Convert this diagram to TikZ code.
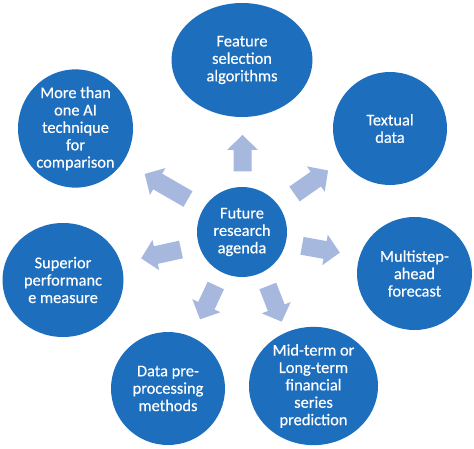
\documentclass[tikz,border=0pt]{standalone}
\usepackage{fontspec}
\setmainfont{Carlito}
\newfontfamily\bubfont{Carlito}[FakeBold=0.35]
\usetikzlibrary{shapes.geometric}
\definecolor{bubble}{HTML}{1E6EBE}
\definecolor{arrowcol}{HTML}{A7B8DE}
\newcommand\blockarrow[3]{%
  \begin{scope}[shift={(#1)},rotate=#2]
    \fill[arrowfill] (0,-9) -- ({#3-15},-9) -- ({#3-15},-15.5) -- (#3,0) -- ({#3-15},15.5) -- ({#3-15},9) -- (0,9) -- cycle;
  \end{scope}}
\begin{document}
\begin{tikzpicture}[x=1pt,y=-1pt,
  bub/.style={ellipse,fill=bubble,inner sep=0pt,text=white,align=center,
    font=\bubfont\fontsize{16.4}{17.4}\selectfont},
  arrowfill/.style={fill=arrowcol}]
\useasboundingbox (0,0) rectangle (474,449);
\fill[white] (0,0) rectangle (474,449);
% bubbles
\node[bub,minimum width=90,minimum height=90] (c) at (242,232) {Future\\research\\agenda};
\node[bub,minimum width=141,minimum height=114] (feat) at (242,60) {Feature\\selection\\algorithms};
\node[bub,minimum width=114,minimum height=113] (text) at (390,128.5) {Textual\\data};
\node[bub,minimum width=115,minimum height=113] (more) at (75.5,128.5) {More than\\one AI\\technique\\for\\comparison};
\node[bub,minimum width=121,minimum height=114] (sup) at (63,280) {Superior\\performanc\\e measure};
\node[bub,minimum width=115,minimum height=113] (multi) at (414.5,273.5) {Multistep-\\ahead\\forecast};
\node[bub,minimum width=114,minimum height=113] (data) at (168,388.5) {Data pre-\\processing\\methods};
\node[bub,minimum width=129,minimum height=114] (mid) at (313.5,386) {Mid-term or\\Long-term\\financial\\series\\prediction};
% arrow tails
\coordinate (a1) at (242.5,171.5);
\coordinate (a2) at (294.5,194);
\coordinate (a3) at (188,199);
\coordinate (a4) at (181,249.5);
\coordinate (a5) at (302,245.8);
\coordinate (a6) at (215.8,285.5);
\coordinate (a7) at (267.8,286);
\blockarrow{a1}{90}{36.5}
\blockarrow{a2}{35}{41}
\blockarrow{a3}{150}{50}
\blockarrow{a4}{192.5}{40.8}
\blockarrow{a5}{-10.3}{38.4}
\blockarrow{a6}{245}{37.3}
\blockarrow{a7}{-68.7}{38.3}
\end{tikzpicture}
\end{document}
